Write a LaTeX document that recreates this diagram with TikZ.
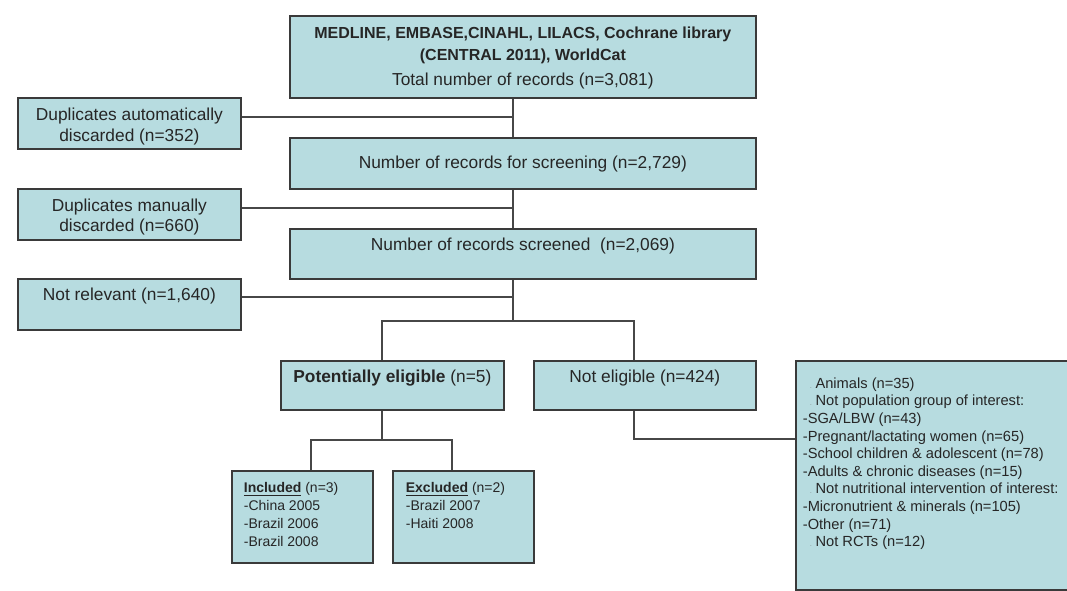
\documentclass[tikz,border=0pt]{standalone}
\usepackage{fontspec}
\setmainfont{Liberation Sans}
\definecolor{bf}{HTML}{B7DCE0}
\definecolor{bd}{HTML}{3A3A3A}
\definecolor{ln}{HTML}{474747}
\definecolor{tx}{HTML}{262626}
\definecolor{dotc}{HTML}{9AAFB2}
\newcommand{\pbx}[4]{\parbox[c][#2][t]{#1}{\rule{0pt}{#3}#4}}
\newcommand{\fcbul}{\hspace*{5pt}\makebox[4.5pt][l]{\textcolor{dotc}{\scriptsize.}}}
\begin{document}
\begin{tikzpicture}[x=0.75pt,y=-0.75pt,
  box/.style={draw=bd, fill=bf, line width=1.3pt, inner sep=0pt, text=tx, anchor=north west},
  conn/.style={draw=ln, line width=1.2pt}]
\useasboundingbox[fill=white] (0,0) rectangle (1067,591);

% boxes
\node[box] (top) at (289,15) {\pbx{349.5pt}{61.5pt}{17.25pt}{\centering\fontsize{12}{16.5}\selectfont\bfseries MEDLINE, EMBASE,CINAHL, LILACS, Cochrane library\\ (CENTRAL 2011), WorldCat\\[2.25pt] {\mdseries\fontsize{13}{16.5}\selectfont Total number of records (n=3,081)}}};

\node[box] (dupa) at (17,97) {\pbx{167.25pt}{38.25pt}{16.9pt}{\centering\fontsize{13}{15.5}\selectfont Duplicates automatically\\ discarded (n=352)}};

\node[box] (screen) at (289,137) {\pbx{349.5pt}{38.25pt}{22.9pt}{\centering\fontsize{13}{15.5}\selectfont Number of records for screening (n=2,729)}};

\node[box] (dupm) at (17,188) {\pbx{167.25pt}{38.25pt}{17.1pt}{\centering\fontsize{13}{15.2}\selectfont Duplicates manually\\ discarded (n=660)}};

\node[box] (screened) at (289,228) {\pbx{349.5pt}{37.5pt}{16.1pt}{\centering\fontsize{13}{15.5}\selectfont Number of records screened\ \ (n=2,069)}};

\node[box] (notrel) at (17,278) {\pbx{167.25pt}{38.25pt}{16.1pt}{\centering\fontsize{13}{15.5}\selectfont Not relevant (n=1,640)}};

\node[box] (pe) at (280,360) {\pbx{167.25pt}{36.75pt}{16.1pt}{\centering\fontsize{13}{15.5}\selectfont\textbf{Potentially eligible} (n=5)}};

\node[box] (ne) at (533,360) {\pbx{166.5pt}{36.75pt}{16.1pt}{\centering\fontsize{13}{15.5}\selectfont Not eligible (n=424)}};

\node[box] (inc) at (231,470) {\pbx{105.75pt}{69pt}{16.5pt}{\raggedright\leftskip=9pt\fontsize{10.5}{13.3}\selectfont\underline{\textbf{Included}} (n=3)\\ -China 2005\\ -Brazil 2006\\ -Brazil 2008}};

\node[box] (exc) at (392,470) {\pbx{105.75pt}{69pt}{16.5pt}{\raggedright\leftskip=9.75pt\fontsize{10.5}{13.3}\selectfont\underline{\textbf{Excluded}} (n=2)\\ -Brazil 2007\\ -Haiti 2008}};

\node[box] (right) at (795,360) {\pbx{210pt}{171.75pt}{20.6pt}{\raggedright\leftskip=5.25pt\fontsize{11}{13.2}\selectfont
\fcbul Animals (n=35)\\
\fcbul Not population group of interest:\\
-SGA/LBW (n=43)\\
-Pregnant/lactating women (n=65)\\
-School children \& adolescent (n=78)\\
-Adults \& chronic diseases (n=15)\\
\fcbul Not nutritional intervention of interest:\\
-Micronutrient \& minerals (n=105)\\
-Other (n=71)\\
\fcbul Not RCTs (n=12)}};

% helper coordinates
\coordinate (trunk) at (513,0);
\coordinate (split) at (513,321);
\coordinate (ya) at (0,117);
\coordinate (ym) at (0,208);
\coordinate (yr) at (0,297);
\coordinate (pex) at (382,0);
\coordinate (nex) at (634,0);
\coordinate (incx) at (311,440);
\coordinate (excx) at (452,440);
\coordinate (nely) at (0,439);

% connectors
\draw[conn] (top.south -| trunk) -- (screen.north -| trunk);
\draw[conn] (dupa.east |- ya) -- (trunk |- ya);
\draw[conn] (screen.south -| trunk) -- (screened.north -| trunk);
\draw[conn] (dupm.east |- ym) -- (trunk |- ym);
\draw[conn] (screened.south -| trunk) -- (split);
\draw[conn] (notrel.east |- yr) -- (trunk |- yr);
\draw[conn] (pe.north -| pex) -- (pex |- split) -- (nex |- split) -- (ne.north -| nex);
\draw[conn] (ne.south -| nex) |- (right.west |- nely);
\draw[conn] (pe.south -| pex) -- (pex |- incx);
\draw[conn] (inc.north -| incx) -- (incx) -- (excx) -- (exc.north -| excx);
\end{tikzpicture}
\end{document}
